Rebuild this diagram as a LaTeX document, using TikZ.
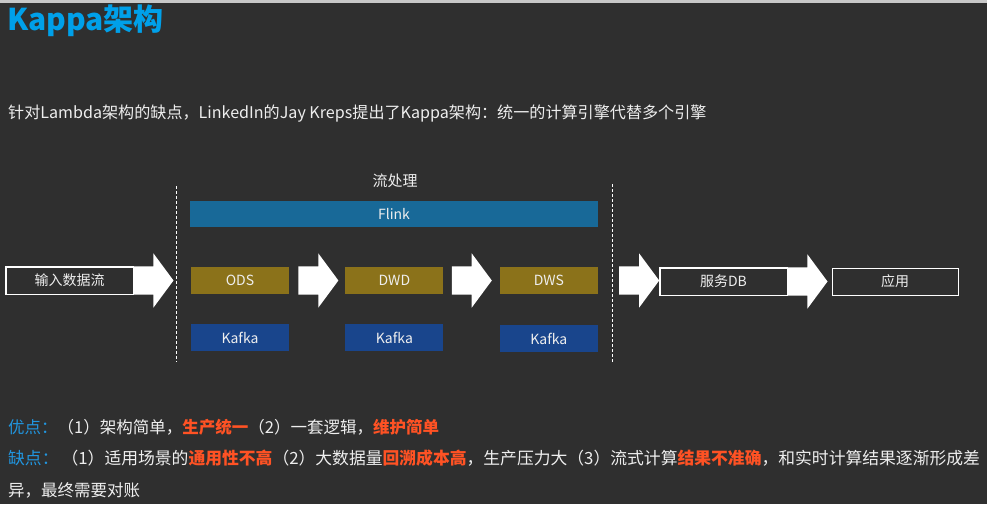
\documentclass[tikz,border=0pt]{standalone}
\usepackage{fontspec}
\setmainfont{Noto Sans CJK SC}
\usetikzlibrary{positioning,shapes.arrows}
\definecolor{bgdark}{RGB}{47,47,47}
\definecolor{topgray}{RGB}{200,200,200}
\definecolor{titleblue}{RGB}{0,160,233}
\definecolor{prosblue}{RGB}{33,150,224}
\definecolor{hotred}{RGB}{255,82,36}
\definecolor{flinkblue}{RGB}{24,105,152}
\definecolor{layergold}{RGB}{139,114,26}
\definecolor{kafkablue}{RGB}{25,69,140}
\definecolor{softwhite}{RGB}{238,238,238}
\newcommand{\hot}[1]{\textcolor{hotred}{\bfseries #1}}

\begin{document}
\begin{tikzpicture}[x=1pt, y=-1pt,
  txt/.style={anchor=base west, inner sep=0pt, text=softwhite,
              font=\fontsize{16.5}{20}\selectfont},
  outbox/.style={draw=white, semithick, text=softwhite, minimum width=127pt,
                 minimum height=27pt, inner sep=0pt, font=\fontsize{14}{16}\selectfont},
  layer/.style={fill=layergold, text=softwhite, minimum width=98pt,
                minimum height=27pt, inner sep=0pt, font=\fontsize{14}{16}\selectfont},
  kafka/.style={layer, fill=kafkablue},
  blk/.style={single arrow, fill=white, minimum height=40pt, inner xsep=0pt,
              inner ysep=14pt, single arrow head extend=13pt, single arrow tip angle=107,
              anchor=west},
  divider/.style={white, dash pattern=on 3pt off 2pt, line width=0.9pt}
]
\fill[bgdark] (0,0) rectangle (987,504);
\useasboundingbox (0,0) rectangle (987,504);
\fill[topgray] (0,0) rectangle (987,3);

\node[anchor=base west, inner sep=0pt, text=titleblue,
      font=\fontsize{30}{34}\selectfont\bfseries] (title) at (7,30) {Kappa架构};
\node[txt, font=\fontsize{16.1}{20}\selectfont] (intro) at (8,118)
  {针对Lambda架构的缺点，LinkedIn的Jay Kreps提出了Kappa架构：统一的计算引擎代替多个引擎};

\node[text=softwhite, inner sep=0pt, font=\fontsize{15}{18}\selectfont] (stream) at (395,181) {流处理};
\node[fill=flinkblue, text=softwhite, minimum width=408pt, minimum height=26pt, inner sep=0pt,
      font=\fontsize{14}{16}\selectfont] (flink) at (394,214) {Flink};

\node[outbox] (in) at (69.5,280.5) {输入数据流};
\node[layer] (ods) at (240,280.5) {ODS};
\node[layer, right=56pt of ods] (dwd) {DWD};
\node[layer, right=56pt of dwd] (dws) {DWS};
\node[kafka, below=30pt of ods] (k1) {Kafka};
\node[kafka, below=30pt of dwd] (k2) {Kafka};
\node[kafka, below=31pt of dws] (k3) {Kafka};
\node[outbox] (db) at (723.5,281.5) {服务DB};
\node[outbox, minimum width=126pt] (app) at (895,281.5) {应用};

\node[blk, right=0pt of in] (a1) {};
\node[blk, right=9pt of ods] (a2) {};
\node[blk, right=8pt of dwd] (a3) {};
\node[blk, right=21pt of dws] (a4) {};
\node[blk, right=0pt of db] (a5) {};
\draw[white, semithick] (in.north west) rectangle (in.south east);
\draw[white, semithick] (db.north west) rectangle (db.south east);

\draw[divider] (176,186) -- (176,362);
\draw[divider] (612,184) -- (612,362);

\node[txt] (pros) at (8,433)
  {\textcolor{prosblue}{优点：}（1）架构简单，\hot{生产统一}（2）一套逻辑，\hot{维护简单}};
\node[txt, font=\fontsize{16.8}{20}\selectfont] (cons) at (8,464)
  {\textcolor{prosblue}{缺点：}\hspace{3pt}（1）适用场景的\hot{通用性不高}（2）大数据量\hot{回溯成本高}，生产压力大（3）流式计算\hot{结果不准确}，和实时计算结果逐渐形成差};
\node[txt] (cons2) at (8,496) {异，最终需要对账};
\end{tikzpicture}
\end{document}
